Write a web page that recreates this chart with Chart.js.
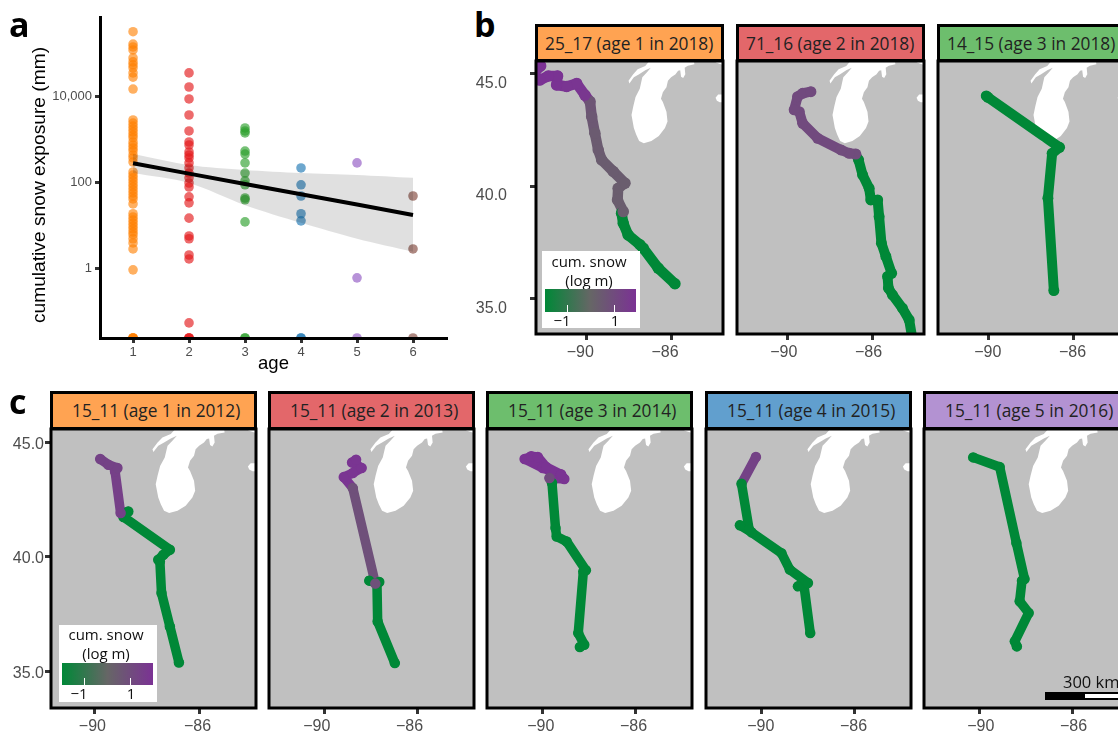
<!DOCTYPE html>
<html lang="en">

<head>
    <meta charset="UTF-8">
    <title>Cumulative snow exposure by age</title>
    <script src="https://cdn.jsdelivr.net/npm/chart.js"></script>
    <style>
        html, body { margin: 0; padding: 0; background: #fff; }
        #page { position: relative; width: 1118px; height: 731px; overflow: hidden; font-family: "Open Sans", sans-serif; color: #111; }
        canvas { position: absolute; }
        .letter { position: absolute; font-size: 34px; font-weight: 700; line-height: 40px; color: #000; }
        .strip { position: absolute; box-sizing: border-box; border: 3px solid #000; font-size: 17.3px; white-space: nowrap; color: #222; display: flex; align-items: center; }
        .key { position: absolute; background: #fff; font-size: 15px; }
        .key div { position: absolute; white-space: nowrap; transform: translate(-50%, -50%); line-height: 1; }
        .key .bar { transform: none; background: linear-gradient(to right, #008837, #666 50%, #7b3294); }
        .key .tick { transform: none; width: 1px; background: #fff; }
        .scale { position: absolute; }
        .ytitle { position: absolute; font-family: "Liberation Sans", sans-serif; font-size: 19.2px; line-height: 20px; white-space: nowrap; color: #000; transform: translate(-50%, -50%) rotate(-90deg); }
    </style>
</head>

<body>
    <div id="page"></div>

    <script>
        // panel a values, cumulative snow exposure in mm, 0.025 = zero on the log axis
        const ages = [1, 2, 3, 4, 5, 6];
        const snowAge1 = [316000, 163000, 140000, 119000, 78000, 63000, 54000, 46000, 35000, 28000, 14800, 2840, 2400, 2050, 1750, 1500, 1270, 1100, 875, 745, 635, 545, 438, 373, 300, 177, 150, 129, 110, 93, 80, 68, 58, 49, 42, 32, 19, 16, 13.6, 11.6, 9.9, 8.5, 7.2, 6.2, 5, 4, 2.9, 0.95, 0.025, 0.025, 0.025, 0.025];
        const snowAge2 = [35000, 16500, 8700, 3700, 1580, 875, 745, 515, 438, 373, 287, 219, 167, 129, 98, 79, 47, 34, 15, 5.8, 5, 2.1, 1.7, 0.056, 0.025, 0.025, 0.025];
        const snowAge3 = [1850, 1580, 1420, 540, 460, 287, 167, 110, 89, 44, 40, 12.3, 0.025, 0.025];
        const snowAge4 = [219, 89, 49, 19, 13, 0.025, 0.025];
        const snowAge5 = [287, 0.62, 0.025];
        const snowAge6 = [49, 2.9, 0.025];
        const snowByAge = [snowAge1, snowAge2, snowAge3, snowAge4, snowAge5, snowAge6];
        const ageColors = ['rgba(255,127,0,0.62)', 'rgba(228,26,28,0.65)', 'rgba(44,160,44,0.65)', 'rgba(31,120,180,0.65)', 'rgba(152,100,200,0.7)', 'rgba(140,86,75,0.7)'];

        // regression line and ribbon at each age
        const fitLine = [282, 162, 93, 54, 31, 17.8];
        const ribbonUpper = [462, 257, 196, 167, 150, 129];
        const ribbonLower = [167, 98, 30, 11.7, 5, 2.5];
        const snowTicks = [1, 100, 10000];

        // map axes
        const lonRange = [-92.40, -83.57];
        const latRange = [33.40, 45.58];
        const lonTicks = [-90, -86];
        const lonLabels = ['\u221290', '\u221286'];
        const latTicks = [35, 40, 45];

        // lake outlines, lon / lat
        const michiganLon = [-87.03, -84.95, -84.92, -85.23, -85.38, -85.35, -85.45, -85.55, -85.59, -85.69, -85.81, -86.02, -86.17, -86.24, -86.41, -86.50, -86.41, -86.24, -86.19, -86.31, -86.60, -86.95, -87.31, -87.53, -87.67, -87.78, -87.89, -87.81, -87.70, -87.50, -87.38, -87.17, -86.98, -87.24, -87.53, -87.78, -87.99, -88.03, -87.81, -87.60, -87.24, -87.03];
        const michiganLat = [45.60, 45.60, 45.43, 45.37, 45.28, 44.99, 44.82, 44.88, 45.17, 45.14, 44.99, 44.85, 44.70, 44.41, 44.19, 43.90, 43.75, 43.32, 42.88, 42.59, 42.23, 42.01, 41.91, 42.01, 42.30, 42.59, 43.17, 43.54, 43.97, 44.34, 44.85, 45.07, 45.28, 45.17, 44.99, 44.85, 44.58, 44.70, 44.99, 45.21, 45.36, 45.60];
        const huronTopLon = [-84.02, -83.57, -83.57, -83.87, -84.02];
        const huronTopLat = [45.60, 45.60, 45.40, 45.50, 45.60];
        const huronLon = [-83.57, -83.80, -83.92, -83.86, -83.72, -83.57, -83.57];
        const huronLat = [44.09, 44.09, 43.94, 43.81, 43.74, 43.74, 44.09];

        // tracks, south to north, snow is log m at each vertex
        const t2517Lon = [-85.84, -86.63, -87.34, -87.49, -88.05, -88.28, -88.36, -88.28, -88.55, -88.52, -88.20, -88.75, -89.30, -89.46, -89.62, -89.77, -89.85, -90.09, -90.48, -90.95, -91.43, -91.38, -91.82, -92.21, -92.53, -92.45, -92.18];
        const t2517Lat = [35.64, 36.34, 37.23, 37.38, 37.82, 38.34, 38.79, 38.86, 39.38, 39.90, 40.13, 40.65, 41.17, 41.61, 42.36, 43.10, 43.77, 44.06, 44.58, 44.44, 44.51, 44.91, 44.91, 44.73, 44.73, 45.10, 45.36];
        const t2517Snow = [-1.95, -1.95, -1.95, -1.95, -1.95, -1.95, -1.95, 0.3, 0.3, 0.3, 0.3, 0.35, 0.35, 0.4, 0.4, 0.5, 0.6, 1.7, 1.8, 1.8, 1.85, 1.85, 1.9, 1.9, 1.9, 1.9, 1.9];
        const t7116Lon = [-84.11, -84.27, -84.59, -85.06, -85.25, -85.29, -85.10, -85.37, -85.58, -85.69, -85.76, -86.08, -86.16, -86.47, -86.66, -86.79, -87.10, -87.49, -88.59, -89.30, -89.46, -89.70, -89.54, -89.30, -88.91];
        const t7116Lat = [33.14, 34.03, 34.55, 35.15, 35.45, 35.97, 36.11, 36.86, 37.45, 38.64, 39.38, 39.38, 39.90, 40.50, 41.17, 41.43, 41.46, 41.61, 42.13, 42.80, 43.32, 43.40, 43.99, 44.14, 44.21];
        const t7116Snow = [-1.95, -1.95, -1.95, -1.95, -1.95, -1.95, -1.95, -1.95, -1.95, -1.95, -1.95, -1.95, -1.95, -1.95, -1.95, 0.9, 0.95, 0.95, 1, 1, 1, 1, 1, 1, 1];
        const t1415Lon = [-86.93, -87.21, -87.01, -86.66, -90.04, -90.12];
        const t1415Lat = [35.34, 39.46, 41.46, 41.73, 43.96, 44.02];
        const t1415Snow = [-1.95, -1.95, -1.95, -1.95, -1.95, -1.95];
        const y2012Lon = [-86.89, -87.28, -87.64, -87.71, -87.78, -87.56, -87.28, -89.28, -89.07, -89.40, -89.64, -89.54, -89.93, -90.28];
        const y2012Lat = [35.39, 36.96, 38.42, 39.80, 39.87, 40.09, 40.31, 41.74, 41.98, 41.91, 43.73, 43.88, 44.02, 44.27];
        const y2012Snow = [-1.95, -1.95, -1.95, -1.95, -1.95, -1.95, -1.95, -1.95, -1.95, 1.4, 1.4, 1.3, 1.3, 1.3];
        const y2013Lon = [-86.98, -87.72, -87.75, -88.08, -87.65, -87.82, -88.79, -89.18, -88.79, -88.41, -88.82, -88.65];
        const y2013Lat = [35.36, 37.18, 38.86, 38.96, 38.90, 38.83, 43.00, 43.48, 43.66, 43.88, 44.12, 44.24];
        const y2013Snow = [-1.95, -1.95, -1.95, -1.95, -1.95, 0.8, 0.8, 1.8, 1.8, 1.8, 1.8, 1.8];
        const y2014Lon = [-88.40, -88.21, -88.47, -88.25, -88.14, -88.97, -89.40, -89.45, -89.60, -89.71, -89.07, -89.21, -90.00, -90.78, -90.50, -90.21, -89.85, -89.21];
        const y2014Lat = [36.06, 36.16, 36.67, 39.36, 39.41, 40.67, 40.89, 41.26, 43.22, 43.44, 43.40, 43.59, 43.88, 44.27, 44.39, 44.36, 43.92, 43.59];
        const y2014Snow = [-1.95, -1.95, -1.95, -1.95, -1.95, -1.95, -1.95, -1.95, -1.95, 1.0, 1.8, 1.85, 1.85, 1.85, 1.85, 1.85, 1.85, 1.85];
        const y2015Lon = [-87.91, -88.19, -88.44, -88.01, -88.79, -89.15, -90.44, -90.94, -90.54, -90.87, -90.25];
        const y2015Lat = [36.67, 38.83, 38.71, 38.86, 39.44, 40.16, 41.07, 41.38, 41.18, 43.19, 44.36];
        const y2015Snow = [-1.95, -1.95, -1.95, -1.95, -1.95, -1.95, -1.95, -1.95, -1.95, -1.95, 1.3];
        const y2016Lon = [-88.40, -88.49, -87.89, -88.28, -88.18, -88.07, -88.42, -89.14, -90.28];
        const y2016Lat = [36.09, 36.31, 37.55, 38.06, 38.96, 39.03, 40.60, 43.92, 44.34];
        const y2016Snow = [-1.95, -1.95, -1.95, -1.95, -1.95, -1.95, -1.95, -1.95, -1.95];

        // panel labels
        const topTitles = ['25_17 (age 1 in 2018)', '71_16 (age 2 in 2018)', '14_15 (age 3 in 2018)'];
        const bottomTitles = ['15_11 (age 1 in 2012)', '15_11 (age 2 in 2013)', '15_11 (age 3 in 2014)', '15_11 (age 4 in 2015)', '15_11 (age 5 in 2016)'];
        const stripColors = ['#FFA352', '#E3676A', '#6DBE6D', '#619FCE', '#B392D2'];

        const page = document.getElementById('page');

        function addCanvas(left, top, width, height) {
            const c = document.createElement('canvas');
            c.width = width;
            c.height = height;
            c.style.left = left + 'px';
            c.style.top = top + 'px';
            c.style.width = width + 'px';
            c.style.height = height + 'px';
            page.appendChild(c);
            return c;
        }

        function addText(className, left, top, text, css) {
            const d = document.createElement('div');
            d.className = className;
            d.style.left = left + 'px';
            d.style.top = top + 'px';
            d.textContent = text;
            Object.assign(d.style, css || {});
            page.appendChild(d);
            return d;
        }

        function hexToRgb(h) {
            return [parseInt(h.slice(1, 3), 16), parseInt(h.slice(3, 5), 16), parseInt(h.slice(5, 7), 16)];
        }

        // same ramp as the colour bar, green - grey - purple
        function snowColor(v) {
            const t = Math.min(1, Math.max(0, (v + 1.95) / 3.85));
            const a = hexToRgb(t < 0.5 ? '#008837' : '#666666');
            const b = hexToRgb(t < 0.5 ? '#666666' : '#7b3294');
            const k = t < 0.5 ? t * 2 : (t - 0.5) * 2;
            return `rgb(${a.map((x, i) => Math.round(x + (b[i] - x) * k)).join(',')})`;
        }

        function toPoints(xs, ys) {
            return xs.map((x, i) => ({ x: x, y: ys[i] }));
        }

        function shape(xs, ys) {
            return {
                data: toPoints(xs, ys), showLine: true, fill: 'shape',
                backgroundColor: '#fff', borderColor: '#fff', borderWidth: 0, pointRadius: 0, tension: 0
            };
        }

        // scale padding would push the chart area away from the fixed frame
        function noPadding(s) {
            s.paddingTop = 0;
            s.paddingBottom = 0;
            s.paddingLeft = 0;
            s.paddingRight = 0;
        }

        // grey land behind, black frame on top
        const mapFrame = {
            id: 'mapFrame',
            beforeDraw(chart) {
                const a = chart.chartArea;
                chart.ctx.fillStyle = '#c0c0c0';
                chart.ctx.fillRect(a.left, a.top, a.width, a.height);
            },
            afterDraw(chart) {
                const a = chart.chartArea;
                chart.ctx.strokeStyle = '#000';
                chart.ctx.lineWidth = 3;
                chart.ctx.strokeRect(a.left, a.top, a.width, a.height);
            }
        };

        function drawMap(p) {
            const marginL = 70, padTop = 4, padRight = 4, axisH = 40;
            const canvas = addCanvas(p.left - marginL, p.top - padTop, marginL + p.width + padRight, padTop + p.height + axisH);
            new Chart(canvas.getContext('2d'), {
                type: 'scatter',
                data: {
                    datasets: [
                        {
                            data: toPoints(p.lon, p.lat), showLine: true, borderWidth: p.line, tension: 0,
                            borderCapStyle: 'round', borderJoinStyle: 'round',
                            borderColor: snowColor(p.snow[0]),
                            segment: { borderColor: ctx => snowColor(p.snow[ctx.p1DataIndex]) },
                            pointRadius: p.line / 2 + 0.5,
                            pointBorderWidth: 0,
                            pointBackgroundColor: p.snow.map(snowColor)
                        },
                        shape(michiganLon, michiganLat),
                        shape(huronTopLon, huronTopLat),
                        shape(huronLon, huronLat)
                    ]
                },
                options: {
                    responsive: false,
                    animation: false,
                    events: [],
                    layout: { autoPadding: false, padding: { left: 0, top: padTop, right: padRight, bottom: 0 } },
                    plugins: { legend: { display: false }, tooltip: { enabled: false } },
                    scales: {
                        x: {
                            type: 'linear', min: lonRange[0], max: lonRange[1],
                            afterFit: s => { noPadding(s); s.height = axisH; },
                            afterBuildTicks: s => { s.ticks = (p.lonTicks || lonTicks).map(v => ({ value: v })); },
                            grid: { drawOnChartArea: false, tickLength: 6, tickWidth: 3, tickColor: '#333' },
                            border: { display: false },
                            ticks: {
                                maxRotation: 0, autoSkip: false, padding: 3, labelOffset: p.lonShift,
                                color: '#4d4d4d', font: { family: 'Liberation Sans', size: 16 },
                                callback: (v, i) => lonLabels[i]
                            }
                        },
                        y: {
                            type: 'linear', min: latRange[0], max: latRange[1],
                            afterFit: s => { noPadding(s); s.width = marginL; },
                            afterBuildTicks: s => { s.ticks = latTicks.map(v => ({ value: v })); },
                            grid: { drawOnChartArea: false, display: p.showLat, tickLength: 6, tickWidth: 3, tickColor: '#333' },
                            border: { display: false },
                            ticks: {
                                display: p.showLat, autoSkip: false, padding: p.latPad, labelOffset: p.latShift,
                                color: '#4d4d4d', font: { family: 'Liberation Sans', size: 16 },
                                callback: v => v.toFixed(1)
                            }
                        }
                    }
                },
                plugins: [mapFrame]
            });
        }

        function addStrip(left, top, width, height, color, title, textPad) {
            return addText('strip', left, top, title, {
                width: width + 'px', height: height + 'px', background: color, paddingLeft: textPad + 'px'
            });
        }

        function addKey(k) {
            const box = addText('key', k.left, k.top, '', { width: k.width + 'px', height: k.height + 'px' });
            const part = (cls, x, y, text, css) => {
                const d = document.createElement('div');
                d.className = cls;
                d.style.left = x + 'px';
                d.style.top = y + 'px';
                d.textContent = text;
                Object.assign(d.style, css || {});
                box.appendChild(d);
            };
            part('', k.titleX, k.line1, 'cum. snow');
            part('', k.titleX, k.line2, '(log m)');
            part('bar', k.barX, k.barY, '', { width: k.barW + 'px', height: k.barH + 'px' });
            part('tick', k.tick1, k.barY + k.barH - 7, '', { height: '7px' });
            part('tick', k.tick2, k.barY + k.barH - 7, '', { height: '7px' });
            part('', k.tick1 - 5, k.labelY, '\u22121');
            part('', k.tick2 + 1, k.labelY, '1');
        }

        // panel a
        const scatterSets = snowByAge.map((vals, i) => ({
            data: vals.map(v => ({ x: ages[i], y: v })),
            backgroundColor: ageColors[i], pointRadius: 4.8, pointBorderWidth: 0
        }));
        new Chart(addCanvas(0, 0, 460, 375).getContext('2d'), {
            type: 'scatter',
            data: {
                datasets: [
                    {
                        data: toPoints(ages, fitLine), showLine: true, borderColor: '#000', borderWidth: 4,
                        pointRadius: 0, tension: 0, borderCapStyle: 'butt'
                    },
                    { data: toPoints(ages, ribbonUpper), showLine: true, borderWidth: 0, pointRadius: 0, tension: 0.3 },
                    {
                        data: toPoints(ages, ribbonLower), showLine: true, borderWidth: 0, pointRadius: 0, tension: 0.3,
                        fill: '-1', backgroundColor: 'rgba(0,0,0,0.12)'
                    }
                ].concat(scatterSets)
            },
            options: {
                responsive: false,
                animation: false,
                events: [],
                layout: { autoPadding: false, padding: { top: 17, right: 13, left: 0, bottom: 0 } },
                plugins: { legend: { display: false }, tooltip: { enabled: false } },
                scales: {
                    x: {
                        type: 'linear', min: 0.41, max: 6.607,
                        afterFit: s => { noPadding(s); s.height = 37; },
                        afterBuildTicks: s => { s.ticks = ages.map(v => ({ value: v })); },
                        grid: { drawOnChartArea: false, tickLength: 5, tickWidth: 3, tickColor: '#333' },
                        border: { color: '#000', width: 3, z: 1 },
                        ticks: {
                            autoSkip: false, maxRotation: 0, padding: 2, color: '#4d4d4d',
                            font: { family: 'Liberation Sans', size: 13 }, callback: v => String(v)
                        },
                        title: { display: true, text: 'age', color: '#000', padding: 0, font: { family: 'Liberation Sans', size: 18.5 } }
                    },
                    y: {
                        type: 'logarithmic', min: 0.025, max: 692000,
                        afterFit: s => { noPadding(s); s.width = 100; },
                        afterBuildTicks: s => { s.ticks = snowTicks.map(v => ({ value: v })); },
                        grid: { drawOnChartArea: false, tickLength: 5, tickWidth: 3, tickColor: '#333' },
                        border: { color: '#000', width: 3, z: 1 },
                        ticks: {
                            autoSkip: false, padding: 3, color: '#4d4d4d',
                            font: { family: 'Liberation Sans', size: 13 }, callback: v => v.toLocaleString('en-US')
                        }
                    }
                }
            }
        });
        addText('ytitle', 39, 185, 'cumulative snow exposure (mm)');

        // panels b
        const rowB = [
            { left: 536, lon: t2517Lon, lat: t2517Lat, snow: t2517Snow, showLat: true, line: 10.5, lonShift: -6.5 },
            { left: 737, lon: t7116Lon, lat: t7116Lat, snow: t7116Snow, showLat: false, line: 10, lonShift: -4 },
            { left: 938, lon: t1415Lon, lat: t1415Lat, snow: t1415Snow, showLat: false, line: 10, lonShift: -1 }
        ];
        rowB.forEach((p, i) => {
            drawMap(Object.assign(p, { top: 61, width: 187, height: 273, latShift: 10, latPad: 23 }));
            addStrip(p.left - 1, 24, 189, 38, stripColors[i], topTitles[i], 7);
        });

        // panels c, the -90 tick of the first one sits further west in the figure
        const rowC = [
            { left: 51, lon: y2012Lon, lat: y2012Lat, snow: y2012Snow, showLat: true, lonTicks: [-90.53, -86], lonShift: -2 },
            { left: 269, lon: y2013Lon, lat: y2013Lat, snow: y2013Snow, showLat: false, lonShift: -8 },
            { left: 487, lon: y2014Lon, lat: y2014Lat, snow: y2014Snow, showLat: false, lonShift: -2 },
            { left: 706, lon: y2015Lon, lat: y2015Lat, snow: y2015Snow, showLat: false, lonShift: -1 },
            { left: 924, lon: y2016Lon, lat: y2016Lat, snow: y2016Snow, showLat: false, lonShift: 1 }
        ];
        rowC.forEach((p, i) => {
            drawMap(Object.assign(p, { top: 429, width: 205, height: 279, line: 9.5, latShift: 2, latPad: 1 }));
            addStrip(p.left - 1, 391, 207, 39, stripColors[i], bottomTitles[i], 19);
        });

        // colour keys
        addKey({ left: 542, top: 251, width: 98, height: 77, titleX: 47, line1: 10, line2: 29, barX: 3, barY: 38, barW: 91, barH: 23, tick1: 25, tick2: 72, labelY: 69 });
        addKey({ left: 59, top: 625, width: 98, height: 77, titleX: 47, line1: 9, line2: 28, barX: 3, barY: 38, barW: 91, barH: 22, tick1: 25, tick2: 71, labelY: 68 });

        // scale bar
        addText('scale', 1063, 672, '300 km', { fontSize: '16.5px', lineHeight: '20px', whiteSpace: 'nowrap' });
        addText('scale', 1045, 692, '', { width: '38px', height: '8px', background: '#000' });
        addText('scale', 1083, 692, '', { width: '40px', height: '8px', background: '#fff', boxSizing: 'border-box', border: '2px solid #000' });

        // panel letters
        addText('letter', 9, 4, 'a');
        addText('letter', 474, 4, 'b');
        addText('letter', 9, 381, 'c');
    </script>
</body>

</html>
